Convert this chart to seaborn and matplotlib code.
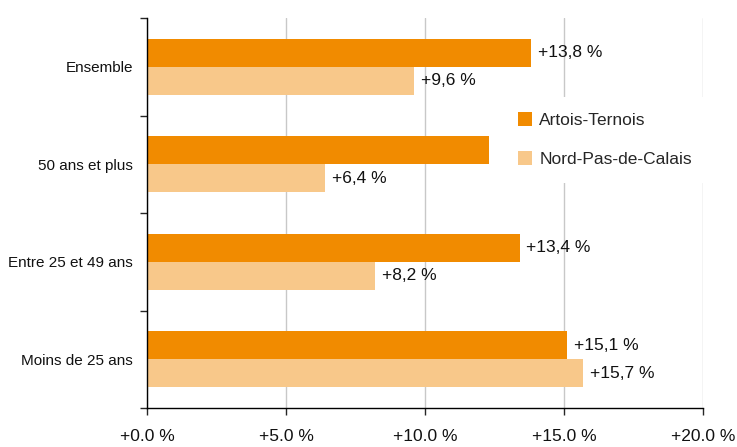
import pandas as pd
import seaborn as sns
import matplotlib.pyplot as plt

# values (change in %)
categories = ['Ensemble', '50 ans et plus', 'Entre 25 et 49 ans', 'Moins de 25 ans']
artois = [13.8, 12.3, 13.4, 15.1]
npdc = [9.6, 6.4, 8.2, 15.7]
artois_shown = [True, False, True, True]  # the 50+ label is not shown in the source
npdc_shown = [True, True, True, True]
series = ['Artois-Ternois', 'Nord-Pas-de-Calais']
xticks = [0, 5, 10, 15, 20]

df = pd.DataFrame({
    'categorie': categories * 2,
    'valeur': artois + npdc,
    'zone': [series[0]] * 4 + [series[1]] * 4,
})

sns.set_style('white')
plt.rcParams['font.family'] = ['Liberation Sans', 'DejaVu Sans']

fig = plt.figure(figsize=(7.37, 4.47), dpi=100)
ax = fig.add_axes([147 / 737, 1 - 408 / 447, 556 / 737, 390 / 447])

colors = ['#F18B00', '#F8C88A']
sns.barplot(data=df, y='categorie', x='valeur', hue='zone', order=categories,
            hue_order=series, palette=colors, width=0.574, orient='h',
            saturation=1, linewidth=0, edgecolor='none', ax=ax, zorder=2)

ax.set_xlim(0, 20)
ax.set_ylim(3.5, -0.5)
ax.set_xticks(xticks)
ax.set_xticklabels([f'+{t:.1f} %' for t in xticks], fontsize=12.5, color='#111111')
ax.tick_params(axis='x', length=5, width=1, pad=10, direction='out', bottom=True)
ax.set_yticks(range(len(categories)))
ax.set_yticklabels(categories, fontsize=11, color='#111111')
ax.tick_params(axis='y', which='major', length=0, pad=10)
ax.set_yticks([-0.5, 0.5, 1.5, 2.5, 3.5], minor=True)
ax.tick_params(axis='y', which='minor', length=5, width=1, direction='out', left=True)
ax.set_xlabel('')
ax.set_ylabel('')

ax.grid(axis='x', color='#C8C8C8', linewidth=1, zorder=0)
ax.set_axisbelow(True)
for side in ['top', 'right']:
    ax.spines[side].set_visible(False)
for side in ['left', 'bottom']:
    ax.spines[side].set_color('black')
    ax.spines[side].set_linewidth(1)

# data labels, French decimal comma
half = 0.574 / 4
for i, (a, n) in enumerate(zip(artois, npdc)):
    if artois_shown[i]:
        ax.text(a + 0.25, i - half, f'+{a:.1f} %'.replace('.', ','),
                va='center', ha='left', fontsize=12.5, color='#111111')
    if npdc_shown[i]:
        ax.text(n + 0.25, i + half, f'+{n:.1f} %'.replace('.', ','),
                va='center', ha='left', fontsize=12.5, color='#111111')

leg = ax.legend(loc='upper left', bbox_to_anchor=(494 / 737, 1 - 88 / 447),
                bbox_transform=fig.transFigure, fontsize=12.5, frameon=True,
                facecolor='white', edgecolor='none', framealpha=1,
                handlelength=0.8, handleheight=0.8, handletextpad=0.4,
                labelspacing=1.35, borderpad=0.9)
leg.set_zorder(5)

fig.savefig('out.png', dpi=100)
